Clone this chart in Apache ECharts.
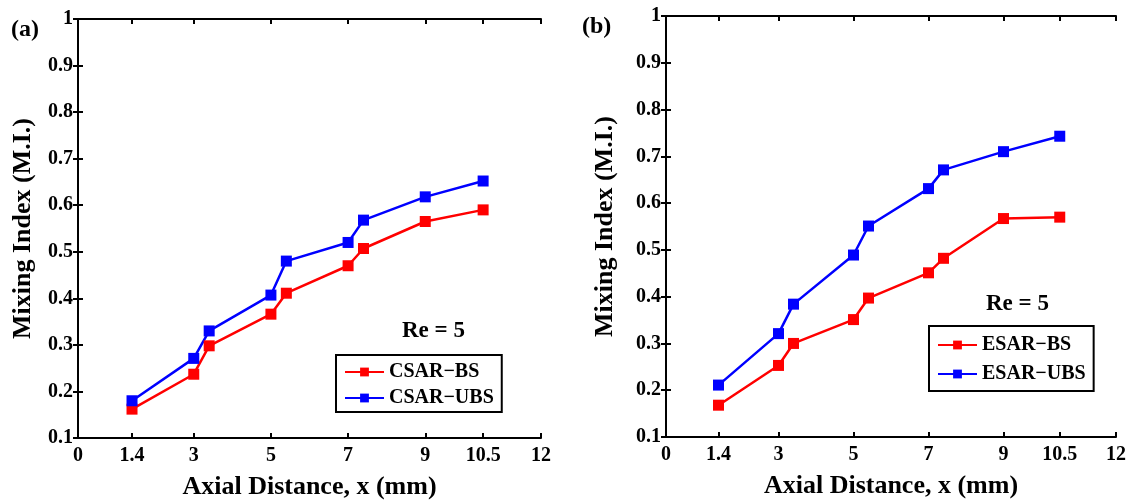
<!DOCTYPE html>
<html><head><meta charset="utf-8">
<script src="https://cdn.jsdelivr.net/npm/echarts@6/dist/echarts.min.js"></script>
<style>html,body{margin:0;padding:0;background:#fff}#c{width:1143px;height:500px}</style>
</head><body><div id="c"></div>
<script>
const xPositions = [1.4, 3, 3.4, 5, 5.4, 7, 7.4, 9, 10.5];
const xTicks = [0, 1.4, 3, 5, 7, 9, 10.5, 12];
const csarBS  = [0.162, 0.237, 0.298, 0.366, 0.411, 0.470, 0.507, 0.565, 0.590];
const csarUBS = [0.180, 0.271, 0.330, 0.407, 0.480, 0.520, 0.568, 0.618, 0.652];
const esarBS  = [0.168, 0.253, 0.300, 0.351, 0.397, 0.451, 0.482, 0.567, 0.570];
const esarUBS = [0.211, 0.321, 0.384, 0.489, 0.551, 0.631, 0.671, 0.710, 0.743];
const seriesNames = ['CSAR\u2212BS', 'CSAR\u2212UBS', 'ESAR\u2212BS', 'ESAR\u2212UBS'];
const panelLabels = ['(a)', '(b)'];
const reLabel = 'Re = 5';
const xTitle = 'Axial Distance, x (mm)';
const yTitle = 'Mixing Index (M.I.)';

const FONT = '"Liberation Serif", "Times New Roman", serif';
const pair = ys => xPositions.map((x, i) => [x, ys[i]]);

const grids = [
  {left: 78, top: 19, width: 463, height: 419, containLabel: false, outerBoundsMode: 'none'},
  {left: 666, top: 16, width: 450, height: 421, containLabel: false, outerBoundsMode: 'none'}
];
const axisLineStyle = {show: true, lineStyle: {color: '#000', width: 2}};
const xAxes = [], yAxes = [];
[0, 1].forEach(g => {
  xAxes.push({
    type: 'value', gridIndex: g, min: 0, max: 12, position: 'bottom',
    name: xTitle, nameLocation: 'middle', nameGap: 36,
    nameTextStyle: {fontFamily: FONT, fontWeight: 'bold', fontSize: 26, color: '#000'},
    axisLine: axisLineStyle,
    axisTick: {show: true, inside: true, length: 5, customValues: xTicks, lineStyle: {color: '#000', width: 2}},
    axisLabel: {customValues: xTicks, fontFamily: FONT, fontWeight: 'bold', fontSize: 20, color: '#000', margin: 8,
      formatter: v => String(v)},
    splitLine: {show: false}
  });
  xAxes.push({
    type: 'value', gridIndex: g, min: 0, max: 12, position: 'top',
    axisLine: axisLineStyle,
    axisTick: {show: true, inside: true, length: 5, customValues: xTicks, lineStyle: {color: '#000', width: 2}},
    axisLabel: {show: false}, splitLine: {show: false}
  });
  yAxes.push({
    type: 'value', gridIndex: g, min: 0.1, max: 1, interval: 0.1, position: 'left',
    name: yTitle, nameLocation: 'middle', nameGap: g === 0 ? 42 : 48, nameRotate: 90,
    nameTextStyle: {fontFamily: FONT, fontWeight: 'bold', fontSize: 26, color: '#000'},
    axisLine: axisLineStyle,
    axisTick: {show: true, inside: true, length: 5, lineStyle: {color: '#000', width: 2}},
    axisLabel: {fontFamily: FONT, fontWeight: 'bold', fontSize: 20, color: '#000', margin: 5,
      formatter: v => (Math.abs(v - 1) < 1e-9 ? '1' : v.toFixed(1))},
    splitLine: {show: false}
  });
  yAxes.push({
    type: 'value', gridIndex: g, min: 0.1, max: 1, interval: 0.1, position: 'right',
    axisLine: axisLineStyle,
    axisTick: {show: true, inside: true, length: 5, lineStyle: {color: '#000', width: 2}},
    axisLabel: {show: false}, splitLine: {show: false}
  });
});

function mk(name, data, color, g) {
  return {
    name, type: 'line', data: pair(data), xAxisIndex: g * 2, yAxisIndex: g * 2,
    symbol: 'rect', symbolSize: 11, showSymbol: true,
    lineStyle: {color, width: 2.5}, itemStyle: {color},
    emphasis: {disabled: true}, animation: false, z: 3
  };
}

const legendText = {fontFamily: FONT, fontWeight: 'bold', fontSize: 20, color: '#000'};
const option = {
  animation: false,
  grid: grids,
  xAxis: xAxes,
  yAxis: yAxes,
  legend: [
    {data: [seriesNames[0], seriesNames[1]], orient: 'vertical', left: 336, top: 355,
     borderColor: '#000', borderWidth: 2, padding: [7, 8, 4, 8], itemGap: 6,
     itemWidth: 39, itemHeight: 11, textStyle: legendText, backgroundColor: '#fff'},
    {data: [seriesNames[2], seriesNames[3]], orient: 'vertical', left: 929, top: 326,
     borderColor: '#000', borderWidth: 2, padding: [9, 8, 7, 8], itemGap: 9,
     itemWidth: 39, itemHeight: 11, textStyle: legendText, backgroundColor: '#fff'}
  ],
  series: [
    mk(seriesNames[0], csarBS, '#ff0000', 0),
    mk(seriesNames[1], csarUBS, '#0000ff', 0),
    mk(seriesNames[2], esarBS, '#ff0000', 1),
    mk(seriesNames[3], esarUBS, '#0000ff', 1)
  ],
  graphic: [
    {type: 'text', left: 11, top: 18, style: {text: panelLabels[0], font: 'bold 24px ' + FONT, fill: '#000'}},
    {type: 'text', left: 582, top: 15, style: {text: panelLabels[1], font: 'bold 24px ' + FONT, fill: '#000'}},
    {type: 'text', left: 402, top: 320, style: {text: reLabel, font: 'bold 23px ' + FONT, fill: '#000'}},
    {type: 'text', left: 986, top: 293, style: {text: reLabel, font: 'bold 23px ' + FONT, fill: '#000'}}
  ]
};
const chart = echarts.init(document.getElementById('c'), null, {renderer: 'canvas'});
chart.setOption(option);
</script></body></html>
